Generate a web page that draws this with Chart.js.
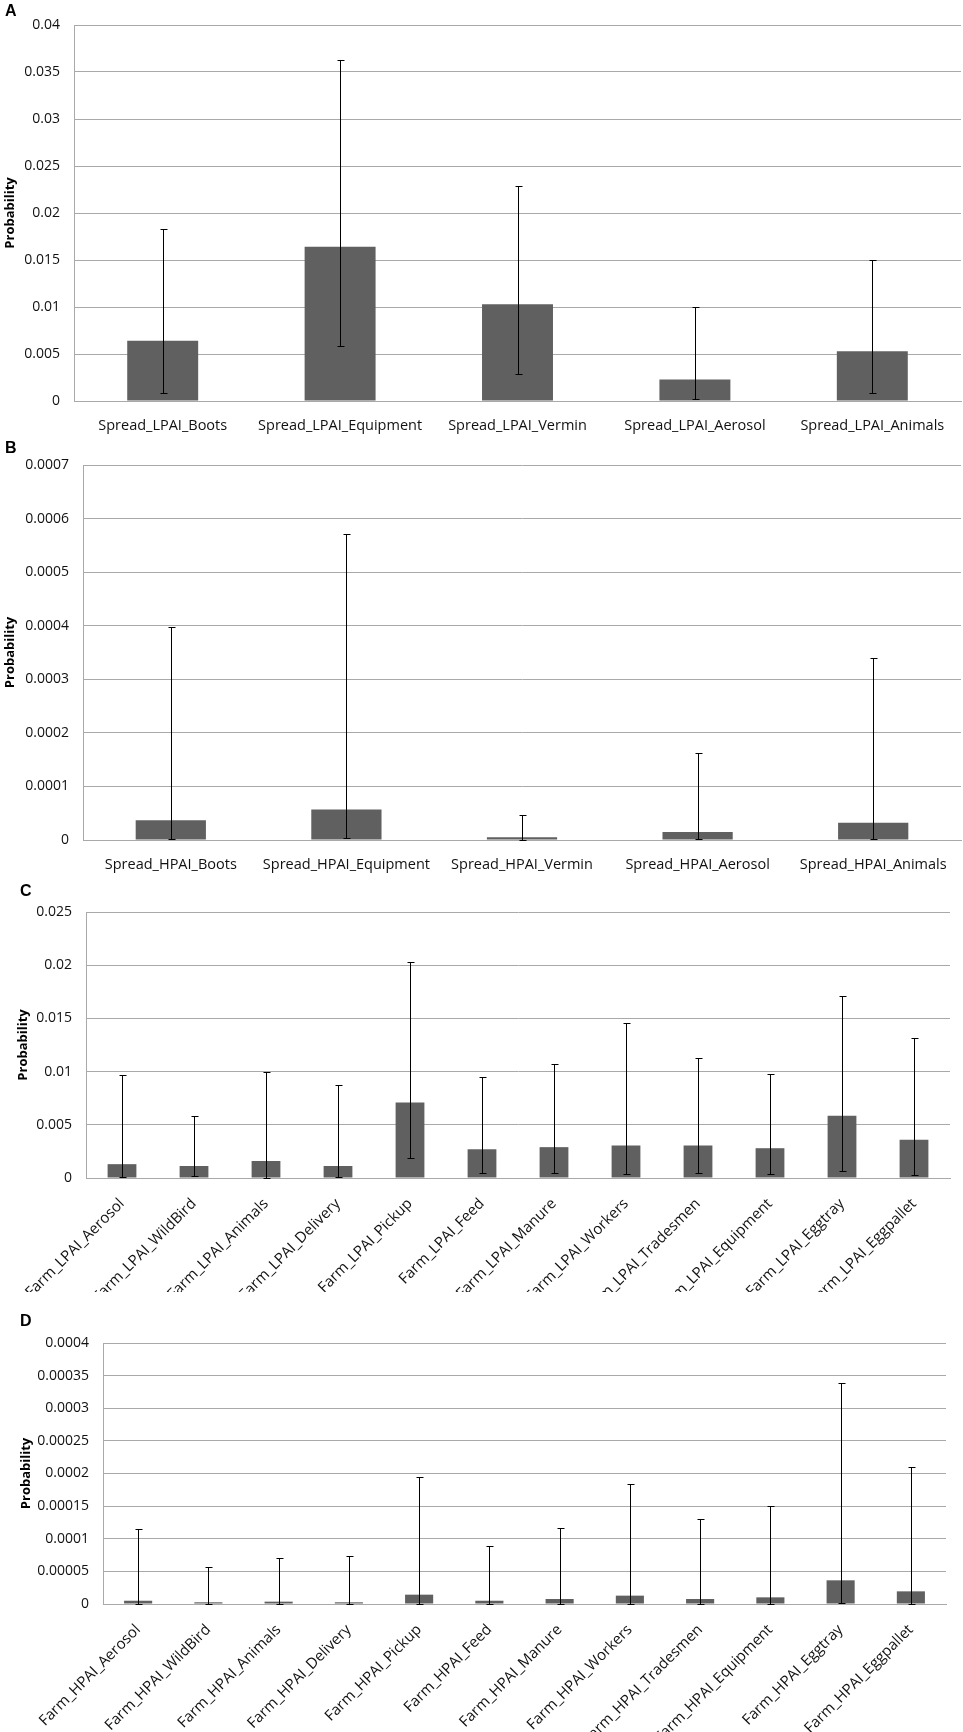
<!DOCTYPE html>
<html>
<head>
<meta charset="utf-8">
<script src="https://cdn.jsdelivr.net/npm/chart.js@4.4.1/dist/chart.umd.min.js"></script>
<style>
  body { margin: 0; background: #fff; width: 963px; height: 1732px; position: relative; overflow: hidden; }
  .panel { position: absolute; left: 0; width: 963px; }
  .tag { position: absolute; font: bold 16px/16px "Liberation Sans", Arial, sans-serif; color: #000; z-index: 2; }
</style>
</head>
<body>
<div class="tag" style="left:5px;top:3px">A</div>
<div class="tag" style="left:5px;top:440px">B</div>
<div class="tag" style="left:20px;top:883px">C</div>
<div class="tag" style="left:20px;top:1313px">D</div>

<div class="panel" style="top:0;height:440px"><canvas id="chartA"></canvas></div>
<div class="panel" style="top:440px;height:440px"><canvas id="chartB"></canvas></div>
<div class="panel" style="top:880px;height:412px"><canvas id="chartC"></canvas></div>
<div class="panel" style="top:1292px;height:440px"><canvas id="chartD"></canvas></div>

<script>
// --- panel A: spread LPAI ---
const catsA = ["Spread_LPAI_Boots", "Spread_LPAI_Equipment", "Spread_LPAI_Vermin", "Spread_LPAI_Aerosol", "Spread_LPAI_Animals"];
const meanA = [0.0064, 0.0164, 0.0103, 0.0023, 0.0053];
const hiA   = [0.0183, 0.0363, 0.0229, 0.0100, 0.0150];
const loA   = [0.0009, 0.0058, 0.0029, 0.0002, 0.0008];
const ticksA = ["0", "0.005", "0.01", "0.015", "0.02", "0.025", "0.03", "0.035", "0.04"];

// --- panel B: spread HPAI ---
const catsB = ["Spread_HPAI_Boots", "Spread_HPAI_Equipment", "Spread_HPAI_Vermin", "Spread_HPAI_Aerosol", "Spread_HPAI_Animals"];
const meanB = [0.000037, 0.000057, 0.000005, 0.000015, 0.000032];
const hiB   = [0.000397, 0.000571, 0.000047, 0.000163, 0.000340];
const loB   = [0.000002, 0.000003, 0.0000005, 0.000001, 0.000001];
const ticksB = ["0", "0.0001", "0.0002", "0.0003", "0.0004", "0.0005", "0.0006", "0.0007"];

// --- panel C: farm LPAI ---
const catsC = ["Farm_LPAI_Aerosol", "Farm_LPAI_WildBird", "Farm_LPAI_Animals", "Farm_LPAI_Delivery", "Farm_LPAI_Pickup", "Farm_LPAI_Feed",
               "Farm_LPAI_Manure", "Farm_LPAI_Workers", "Farm_LPAI_Tradesmen", "Farm_LPAI_Equipment", "Farm_LPAI_Eggtray", "Farm_LPAI_Eggpallet"];
const meanC = [0.0013, 0.00113, 0.0016, 0.00113, 0.0071, 0.0027, 0.0029, 0.00305, 0.00305, 0.0028, 0.00585, 0.0036];
const hiC   = [0.0097, 0.0058, 0.0100, 0.0087, 0.0203, 0.0095, 0.0107, 0.0146, 0.0113, 0.0098, 0.0171, 0.0132];
const loC   = [0.00005, 0.00016, 0.00003, 0.00005, 0.0019, 0.00047, 0.00047, 0.00035, 0.00047, 0.00041, 0.00063, 0.00032];
const ticksC = ["0", "0.005", "0.01", "0.015", "0.02", "0.025"];

// --- panel D: farm HPAI ---
const catsD = ["Farm_HPAI_Aerosol", "Farm_HPAI_WildBird", "Farm_HPAI_Animals", "Farm_HPAI_Delivery", "Farm_HPAI_Pickup", "Farm_HPAI_Feed",
               "Farm_HPAI_Manure", "Farm_HPAI_Workers", "Farm_HPAI_Tradesmen", "Farm_HPAI_Equipment", "Farm_HPAI_Eggtray", "Farm_HPAI_Eggpallet"];
const meanD = [0.000005, 0.0000026, 0.0000036, 0.0000026, 0.0000143, 0.000005, 0.0000077, 0.0000128, 0.0000077, 0.0000102, 0.0000363, 0.0000194];
const hiD   = [0.000115, 0.000057, 0.000070, 0.000074, 0.000194, 0.000089, 0.000116, 0.000184, 0.000130, 0.000150, 0.000339, 0.000210];
const loD   = [0.0000003, 0.0000003, 0.0000003, 0.0000003, 0.0000005, 0.0000003, 0.0000003, 0.0000004, 0.0000003, 0.0000004, 0.000001, 0.0000005];
const ticksD = ["0", "0.00005", "0.0001", "0.00015", "0.0002", "0.00025", "0.0003", "0.00035", "0.0004"];

const GRID = "#a9a9a9";
const BAR = "#606060";

// whiskers drawn from the y scale of each chart
const errorBars = {
  id: "errorBars",
  afterDatasetsDraw(chart, args, o) {
    const ctx = chart.ctx;
    const y = chart.scales.y;
    ctx.save();
    ctx.strokeStyle = "#000";
    ctx.lineWidth = 1;
    chart.getDatasetMeta(0).data.forEach((bar, i) => {
      const x = Math.round(bar.x) + 0.5;
      const top = Math.round(y.getPixelForValue(o.hi[i])) + 0.5;
      const bot = Math.round(y.getPixelForValue(o.lo[i])) + 0.5;
      ctx.beginPath();
      ctx.moveTo(x, top); ctx.lineTo(x, bot);
      ctx.moveTo(x - 3, top); ctx.lineTo(x + 4, top);
      ctx.moveTo(x - 3, bot); ctx.lineTo(x + 4, bot);
      ctx.stroke();
    });
    ctx.restore();
  }
};

function makeChart(id, cats, mean, lo, hi, ticks, lay) {
  const tickVals = ticks.map(Number);
  return new Chart(document.getElementById(id), {
    type: "bar",
    data: {
      labels: cats,
      datasets: [{
        data: mean,
        backgroundColor: BAR,
        borderWidth: 0,
        barPercentage: 0.4,
        categoryPercentage: 1
      }]
    },
    options: {
      responsive: true,
      maintainAspectRatio: false,
      animation: false,
      layout: { padding: { left: lay.padLeft, top: lay.padTop, right: lay.padRight, bottom: 0 } },
      plugins: {
        legend: { display: false },
        tooltip: { enabled: false },
        errorBars: { lo: lo, hi: hi }
      },
      scales: {
        x: {
          grid: { display: false, drawTicks: false },
          border: { display: true, color: GRID, width: 1 },
          ticks: {
            color: "#111",
            font: { family: "Open Sans", size: lay.xFont },
            padding: lay.xPad,
            autoSkip: false,
            minRotation: lay.rot,
            maxRotation: lay.rot
          },
          afterFit: s => { s.height = lay.xHeight; }
        },
        y: {
          min: 0,
          max: tickVals[tickVals.length - 1],
          afterBuildTicks: s => { s.ticks = tickVals.map(v => ({ value: v })); },
          grid: { color: GRID, lineWidth: 1, drawTicks: false },
          border: { display: true, color: GRID, width: 1 },
          ticks: {
            color: "#111",
            font: { family: "Open Sans", size: 14 },
            padding: 14,
            callback: (v, i) => ticks[i]
          },
          title: {
            display: true,
            text: "Probability",
            color: "#000",
            font: { family: "Open Sans", size: 13, weight: "bold" },
            padding: { top: 2, bottom: 0 }
          },
          afterFit: s => { s.width = lay.yWidth; }
        }
      }
    },
    plugins: [errorBars]
  });
}

makeChart("chartA", catsA, meanA, loA, hiA, ticksA, { padLeft: 0, padTop: 25, padRight: 2, yWidth: 74, xHeight: 39, xPad: 16, xFont: 14.5, rot: 0 });
makeChart("chartB", catsB, meanB, loB, hiB, ticksB, { padLeft: 0, padTop: 25, padRight: 2, yWidth: 83, xHeight: 40, xPad: 16, xFont: 14.5, rot: 0 });
makeChart("chartC", catsC, meanC, loC, hiC, ticksC, { padLeft: 13, padTop: 32, padRight: 13, yWidth: 73, xHeight: 114, xPad: 17, xFont: 15, rot: 45 });
makeChart("chartD", catsD, meanD, loD, hiD, ticksD, { padLeft: 16, padTop: 51, padRight: 17, yWidth: 87, xHeight: 128, xPad: 17, xFont: 15, rot: 45 });
</script>
</body>
</html>
